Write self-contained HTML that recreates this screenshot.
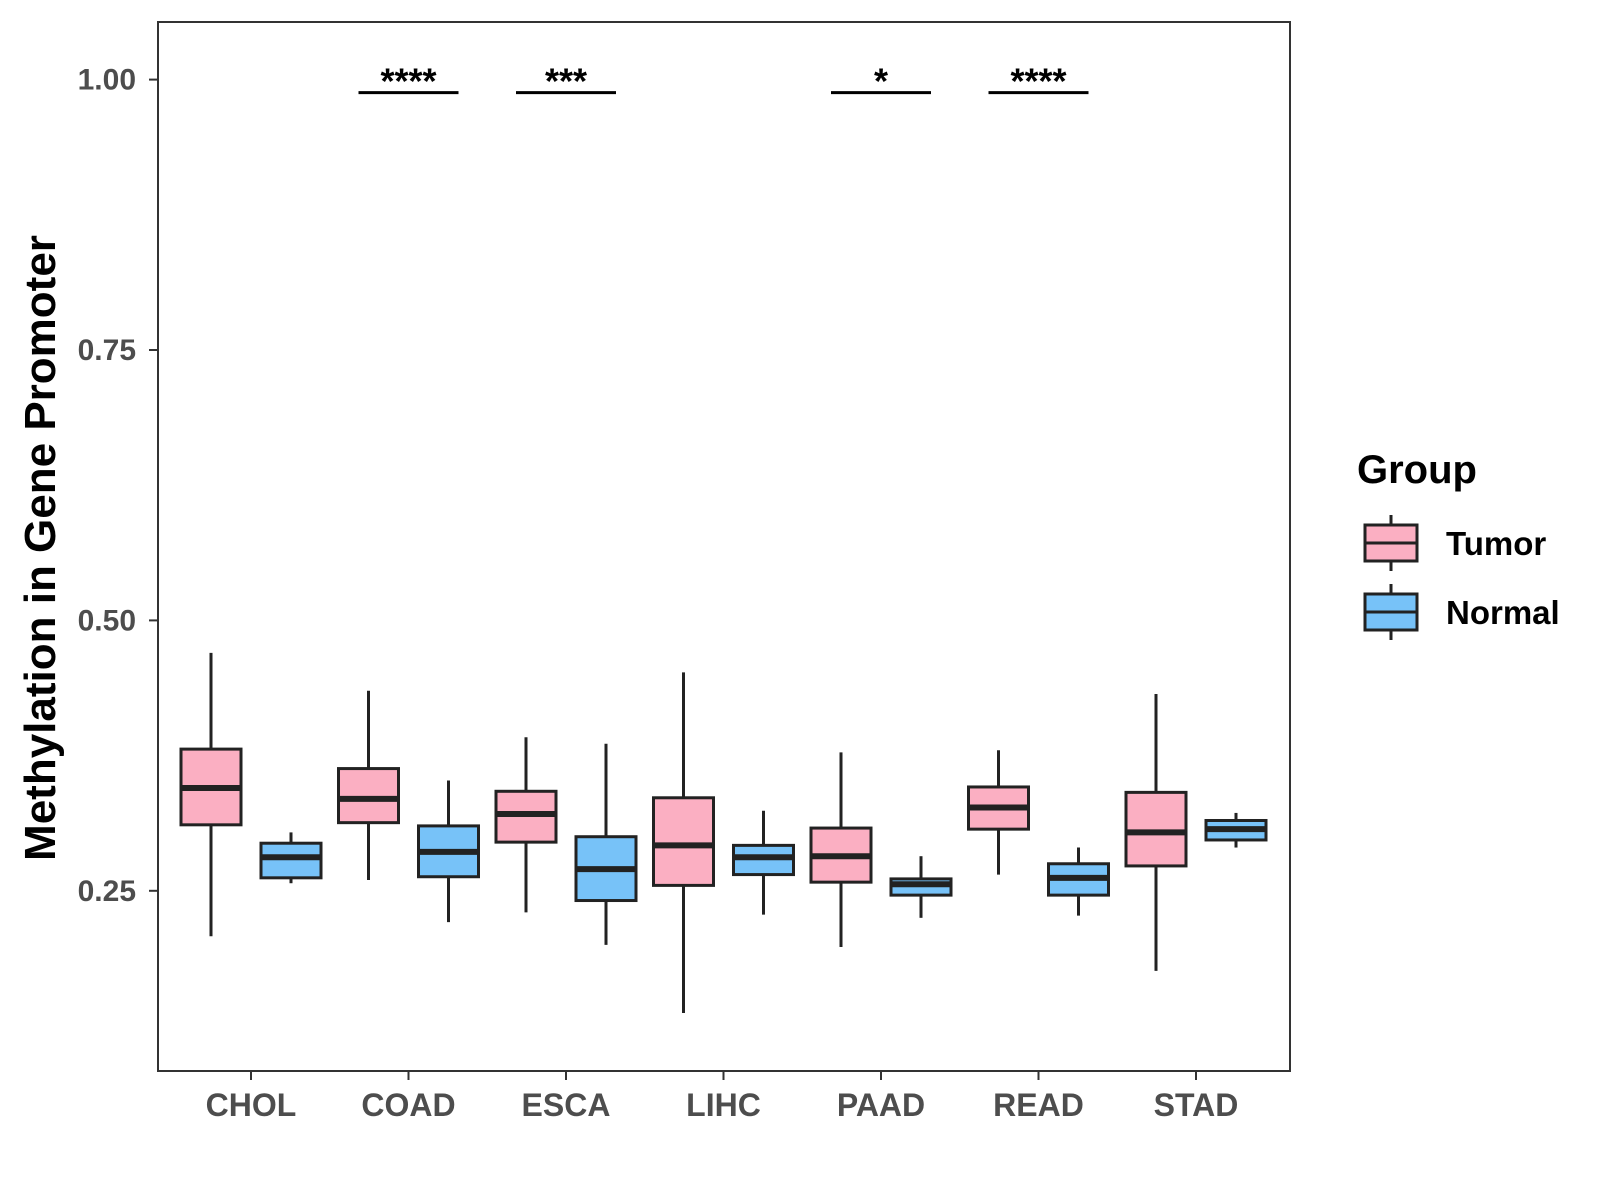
<!DOCTYPE html>
<html><head><meta charset="utf-8"><style>
body{margin:0;background:#fff}
svg{display:block}
text{font-family:"Liberation Sans",sans-serif;font-weight:bold}
</style></head><body>
<svg id="chart" width="1600" height="1200"></svg>
<script>
const categories=["CHOL","COAD","ESCA","LIHC","PAAD","READ","STAD"];
// [lowWhisker, Q1, median, Q3, highWhisker]
const tumorStats=[[0.208,0.311,0.345,0.381,0.470],[0.260,0.313,0.335,0.363,0.435],[0.230,0.295,0.321,0.342,0.392],[0.137,0.255,0.292,0.336,0.452],[0.198,0.258,0.282,0.308,0.378],[0.265,0.307,0.327,0.346,0.380],[0.176,0.273,0.304,0.341,0.432]];
const normalStats=[[0.257,0.262,0.281,0.294,0.304],[0.221,0.263,0.286,0.310,0.352],[0.200,0.241,0.270,0.300,0.386],[0.228,0.265,0.281,0.292,0.324],[0.225,0.246,0.256,0.261,0.282],[0.227,0.246,0.262,0.275,0.290],[0.290,0.297,0.307,0.315,0.322]];
const significance=["","****","***","","*","****",""];
const yTicks=[0.25,0.50,0.75,1.00];
const yTickLabels=["0.25","0.50","0.75","1.00"];

const NS="http://www.w3.org/2000/svg";
const svg=document.getElementById('chart');
const L=158,R=1290,T=22,B=1071;
const y=v=>79.6+(1-v)*1081.6;
const x=i=>251+i*157.5;
function el(tag,attrs,parent){const e=document.createElementNS(NS,tag);for(const k in attrs)e.setAttribute(k,attrs[k]);(parent||svg).appendChild(e);return e;}

const frame=el('rect',{x:L,y:T,width:R-L,height:B-T,fill:'none',stroke:'#333',"stroke-width":2});



yTicks.forEach((t,i)=>{
  const tk=el('line',{x1:L-9,x2:L,y1:y(t),y2:y(t),stroke:'#333',"stroke-width":2});
  
  
  const tl=el('text',{x:L-22,y:y(t)+10,"text-anchor":"end","font-size":30,fill:'#4d4d4d'});
  tl.textContent=yTickLabels[i];
  
  
});
categories.forEach((c,i)=>{
  const tk=el('line',{x1:x(i),x2:x(i),y1:B,y2:B+9,stroke:'#333',"stroke-width":2});
  
  
  const tl=el('text',{x:x(i),y:B+45,"text-anchor":"middle","font-size":32,fill:'#4d4d4d'});
  tl.textContent=c;
  
  
});

function drawBox(s,cx,fill,name){
  const g=el('g',{});
  
  
  const w=60;
  el('line',{x1:cx,x2:cx,y1:y(s[4]),y2:y(s[0]),stroke:'#222',"stroke-width":3},g);
  el('rect',{x:cx-w/2,y:y(s[3]),width:w,height:y(s[1])-y(s[3]),fill:fill,stroke:'#222',"stroke-width":3},g);
  el('line',{x1:cx-w/2,x2:cx+w/2,y1:y(s[2]),y2:y(s[2]),stroke:'#222',"stroke-width":6},g);
}
categories.forEach((c,i)=>{
  drawBox(tumorStats[i],x(i)-40,'#FBAFC2','tumor-box-'+c.toLowerCase());
  drawBox(normalStats[i],x(i)+40,'#77C2F8','normal-box-'+c.toLowerCase());
  if(significance[i]){
    const ln=el('line',{x1:x(i)-50,x2:x(i)+50,y1:y(0.988),y2:y(0.988),stroke:'#000',"stroke-width":3});
    
    
    const st=el('text',{x:x(i),y:y(0.988)+1,"text-anchor":"middle","font-size":36,fill:'#000'});
    st.textContent=significance[i];
    
    
  }
});

const yt=el('text',{x:0,y:0,"text-anchor":"middle","font-size":44,fill:'#000',transform:'translate(55,548) rotate(-90)'});
yt.textContent='Methylation in Gene Promoter';



const lg=el('g',{});


const lt=el('text',{x:1357,y:483,"font-size":40,fill:'#000'},lg);
lt.textContent='Group';


[['Tumor','#FBAFC2',543],['Normal','#77C2F8',612]].forEach(([n,f,cy])=>{
  const g=el('g',{},lg);
  
  
  el('line',{x1:1391,x2:1391,y1:cy-28,y2:cy+28,stroke:'#222',"stroke-width":3},g);
  el('rect',{x:1365,y:cy-18,width:52,height:36,fill:f,stroke:'#222',"stroke-width":3},g);
  el('line',{x1:1365,x2:1417,y1:cy,y2:cy,stroke:'#222',"stroke-width":3},g);
  const t=el('text',{x:1446,y:cy+12,"font-size":33,fill:'#000'},g);
  t.textContent=n;
});
</script>
</body></html>
